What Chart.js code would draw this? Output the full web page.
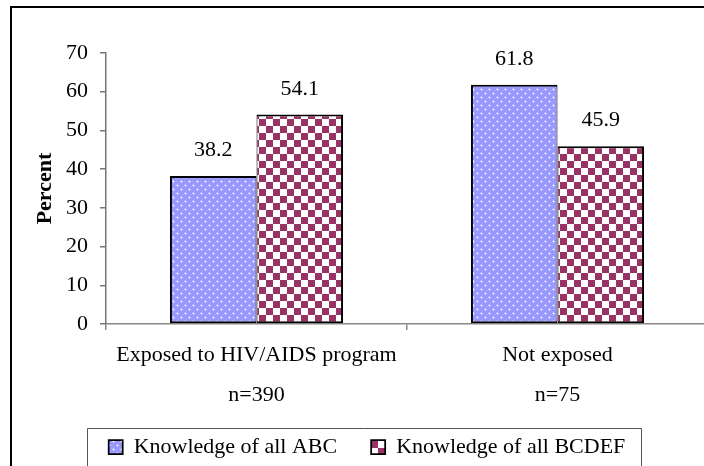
<!DOCTYPE html>
<html>
<head>
<meta charset="utf-8">
<script src="https://cdn.jsdelivr.net/npm/chart.js@4.4.1/dist/chart.umd.min.js"></script>
<style>
  html, body { margin: 0; padding: 0; background: #fff; overflow: hidden; }
  canvas { display: block; }
</style>
</head>
<body>
<canvas id="chart" width="708" height="468" style="width:708px;height:468px"></canvas>
<script>
// chart values
const categories = [['Exposed to HIV/AIDS program', 'n=390'], ['Not exposed', 'n=75']];
const seriesNames = ['Knowledge of all ABC', 'Knowledge of all BCDEF'];
const abcValues = [38.2, 61.8];
const bcdefValues = [54.1, 45.9];
const yMin = 0;
const yMax = 70;
const yStep = 10;

const FONT = "'Liberation Serif', 'Times New Roman', serif";

// fill patterns like the old office charts
function dotPattern() {
  const c = document.createElement('canvas');
  c.width = 8; c.height = 8;
  const g = c.getContext('2d');
  g.fillStyle = '#9999ff';
  g.fillRect(0, 0, 8, 8);
  for (const [x, y] of [[1, 1], [5, 5]]) {
    g.fillStyle = '#c4c4ff';
    g.fillRect(x - 1, y, 3, 1);
    g.fillRect(x, y - 1, 1, 3);
    g.fillStyle = '#ffffff';
    g.fillRect(x, y, 1, 1);
  }
  return g.createPattern(c, 'repeat');
}

function checkPattern() {
  const c = document.createElement('canvas');
  c.width = 14; c.height = 14;
  const g = c.getContext('2d');
  g.fillStyle = '#ffffff';
  g.fillRect(0, 0, 14, 14);
  g.fillStyle = '#993366';
  g.fillRect(0, 0, 7, 7);
  g.fillRect(7, 7, 7, 7);
  return g.createPattern(c, 'repeat');
}

const framePlugin = {
  id: 'frame',
  beforeDraw(chart) {
    // the second label line (n=...) hangs below the x scale box, so don't clip it
    chart.scales.x._computeLabelArea = () => undefined;
    const ctx = chart.ctx;
    ctx.save();
    ctx.fillStyle = '#ffffff';
    ctx.fillRect(0, 0, chart.width, chart.height);
    ctx.fillStyle = '#000000';
    ctx.fillRect(10, 6, 2, chart.height);
    ctx.fillRect(10, 6, chart.width, 2);
    ctx.restore();
  },
  afterDraw(chart) {
    const hb = chart.legend.legendHitBoxes;
    if (!hb || !hb.length) return;
    const last = hb[hb.length - 1];
    const ctx = chart.ctx;
    ctx.save();
    ctx.strokeStyle = '#555555';
    ctx.lineWidth = 1;
    const left = Math.round(hb[0].left - 22) + 0.5;
    const right = Math.round(last.left + last.width + 16) + 0.5;
    const top = Math.round(hb[0].top - 8) + 0.5;
    ctx.beginPath();
    ctx.moveTo(left, chart.height + 10);
    ctx.lineTo(left, top);
    ctx.lineTo(right, top);
    ctx.lineTo(right, chart.height + 10);
    ctx.stroke();
    ctx.restore();
  }
};

const valueLabels = {
  id: 'valueLabels',
  afterDatasetsDraw(chart) {
    const ctx = chart.ctx;
    ctx.save();
    ctx.font = '22px ' + FONT;
    ctx.fillStyle = '#000';
    ctx.textAlign = 'center';
    ctx.textBaseline = 'alphabetic';
    chart.data.datasets.forEach((ds, i) => {
      chart.getDatasetMeta(i).data.forEach((bar, j) => {
        ctx.fillText(ds.data[j].toFixed(1), bar.x, bar.y - 20);
      });
    });
    ctx.restore();
  }
};

const ctx = document.getElementById('chart').getContext('2d');
const chart = new Chart(ctx, {
  type: 'bar',
  data: {
    labels: categories,
    datasets: [
      {
        label: seriesNames[0],
        data: abcValues,
        backgroundColor: dotPattern(),
        borderColor: '#000',
        borderWidth: { left: 2, top: 2, bottom: 2, right: 1 },
        borderSkipped: false
      },
      {
        label: seriesNames[1],
        data: bcdefValues,
        backgroundColor: checkPattern(),
        borderColor: '#000',
        borderWidth: { left: 1, top: 2, bottom: 2, right: 2 },
        borderSkipped: false
      }
    ]
  },
  options: {
    responsive: false,
    animation: false,
    devicePixelRatio: 1,
    layout: { padding: { left: 26, top: 53, right: 0, bottom: 0 } },
    datasets: { bar: { categoryPercentage: 0.575, barPercentage: 1 } },
    plugins: {
      legend: {
        position: 'bottom',
        labels: {
          boxWidth: 14,
          boxHeight: 14,
          padding: 34,
          color: '#000',
          font: { family: FONT, size: 22 }
        }
      },
      tooltip: { enabled: false }
    },
    scales: {
      x: {
        offset: true,
        afterFit: s => { s.height = 78; },
        grid: { offset: true, drawOnChartArea: false, tickLength: 6, color: '#888', lineWidth: 1.5 },
        border: { color: '#888', width: 1.5 },
        ticks: {
          padding: 5,
          color: '#000',
          maxRotation: 0,
          autoSkip: false,
          font: { family: FONT, size: 22, lineHeight: '40px' }
        }
      },
      y: {
        min: yMin,
        max: yMax,
        afterFit: s => { s.width = 80; },
        grid: { drawOnChartArea: false, tickLength: 6, color: '#777', lineWidth: 1.5 },
        border: { color: '#777', width: 1.5 },
        ticks: {
          stepSize: yStep,
          padding: 12,
          color: '#000',
          font: { family: FONT, size: 22 }
        },
        title: {
          display: true,
          text: 'Percent',
          color: '#000',
          padding: { top: 6, bottom: 0 },
          font: { family: FONT, size: 22, weight: 'bold' }
        }
      }
    }
  },
  plugins: [framePlugin, valueLabels]
});
</script>
</body>
</html>
